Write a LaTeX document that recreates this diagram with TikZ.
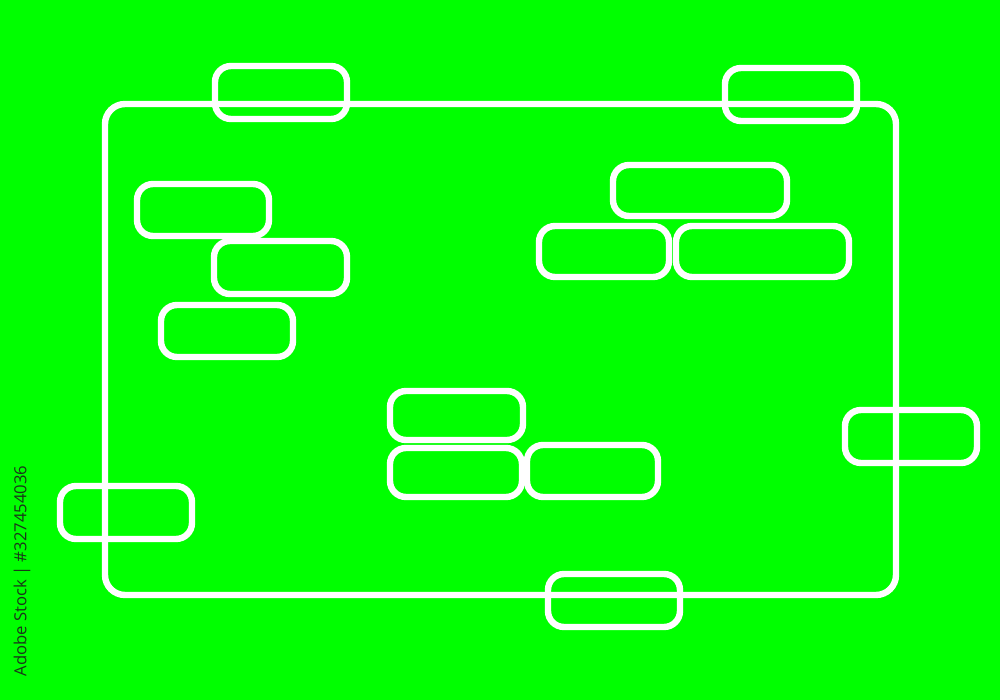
\documentclass[tikz,border=0pt]{standalone}
\usepackage{fontspec}
\newfontfamily\stockfont{Open Sans}
\definecolor{limebg}{RGB}{0,255,0}
\definecolor{stampgray}{RGB}{25,55,25}
\tikzset{
    pill/.style={draw=white, line width=4.8pt, rounded corners=12pt},
    frame/.style={draw=white, line width=4.8pt, rounded corners=15pt}
}
\begin{document}
\begin{tikzpicture}[x=0.75pt,y=0.75pt,yscale=-1,xscale=1]
        %Background
        \fill[limebg] (0,0) rectangle (1000,700);
        \useasboundingbox (0,0) rectangle (1000,700);

        %Frame
        \draw[frame] (105,104) rectangle (896,595);

        %Rounded Rect: on frame, top
        \draw[pill] (215,66) rectangle (347,119);
        \draw[pill] (725,68) rectangle (857,121);
        %Rounded Rect: on frame, sides and bottom
        \draw[pill] (845,410) rectangle (977,463);
        \draw[pill] (60,486) rectangle (192,539);
        \draw[pill] (548,574) rectangle (680,627);

        %Rounded Rect: left group
        \draw[pill] (137,184) rectangle (269,236);
        \draw[pill] (214,241) rectangle (347,294);
        \draw[pill] (161,305) rectangle (293,357);

        %Rounded Rect: right group
        \draw[pill] (613,165) rectangle (787,216);
        \draw[pill] (539,226) rectangle (669,277);
        \draw[pill] (676,226) rectangle (849,277);

        %Rounded Rect: middle group
        \draw[pill] (390,391) rectangle (523,440);
        \draw[pill] (390,448) rectangle (522,497);
        \draw[pill] (527,445) rectangle (658,497);

        % Text Node
        \node[rotate=90, text=stampgray, inner sep=0pt] (stamp) at (22,571) {\stockfont\fontsize{12.5}{12.5}\selectfont Adobe Stock | \#327454036};
    \end{tikzpicture}
\end{document}
